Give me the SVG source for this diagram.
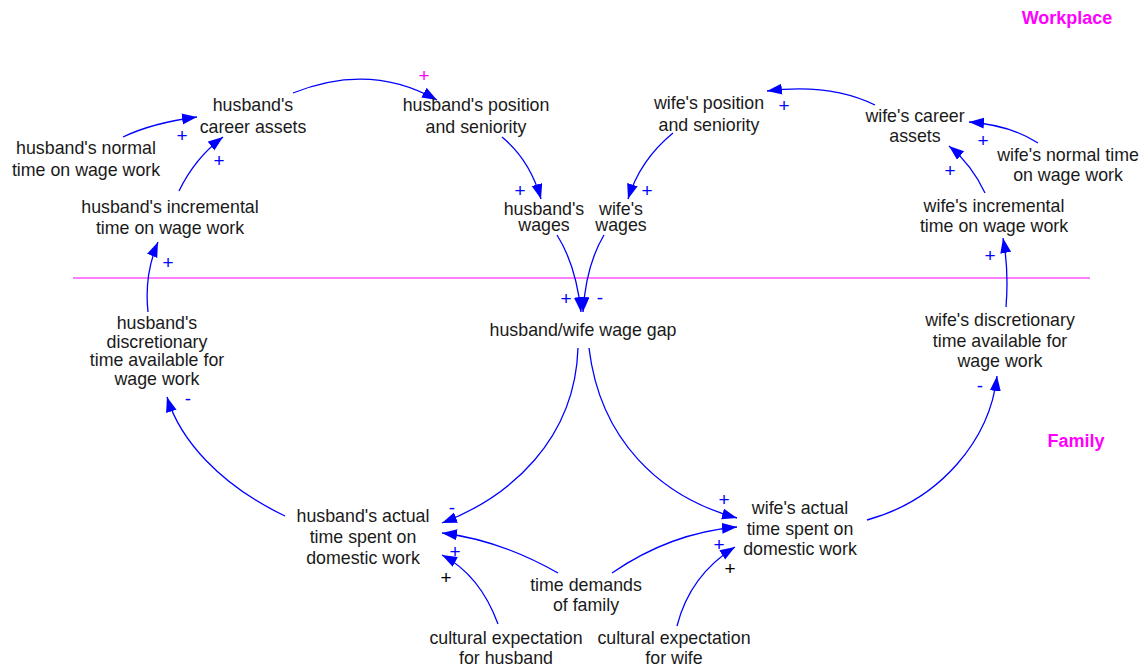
<svg xmlns="http://www.w3.org/2000/svg" width="1144" height="668" viewBox="0 0 1144 668">
  <style>
    .lbl { font-family: "Liberation Sans", Arial, sans-serif; font-size: 17.8px; fill: #1a1a1a; text-anchor: middle; }
    .zone { font-family: "Liberation Sans", Arial, sans-serif; font-size: 18px; font-weight: bold; fill: #ff00ff; text-anchor: middle; }
    .pol { font-family: "Liberation Sans", Arial, sans-serif; font-size: 19px; fill: #0000ff; text-anchor: middle; }
    .polk { font-family: "Liberation Sans", Arial, sans-serif; font-size: 19px; fill: #000000; text-anchor: middle; }
    .polm { font-family: "Liberation Sans", Arial, sans-serif; font-size: 19px; fill: #ff00ff; text-anchor: middle; }
    .link { fill: none; stroke: #0000ff; stroke-width: 1.3; marker-end: url(#head); }
  </style>
  <defs>
    <marker id="head" markerUnits="userSpaceOnUse" markerWidth="16" markerHeight="12" refX="15" refY="5.5" orient="auto">
      <path d="M0,0 L15,5.5 L0,11 z" fill="#0000ff"/>
    </marker>
  </defs>
  <rect width="1144" height="668" fill="#ffffff"/>

  <!-- boundary between workplace and family -->
  <g id="boundary">
    <line x1="73" y1="278" x2="1090" y2="278" stroke="#ff00ff" stroke-width="1"/>
    <text class="zone" x="1067" y="24">Workplace</text>
    <text class="zone" x="1076" y="447">Family</text>
  </g>

  <g id="connectors">
    <path class="link" d="M123,137 Q152,123 197,117"/>
    <path class="link" d="M179,191 Q195,158 223,137"/>
    <path class="link" d="M148,312 Q144,275 158,242"/>
    <path class="link" d="M293,93 Q370,62 437,100"/>
    <path class="link" d="M502,137 Q530,160 541,199"/>
    <path class="link" d="M673,133 Q640,160 628,199"/>
    <path class="link" d="M557,235 Q576,265 581,312"/>
    <path class="link" d="M604,235 Q586,265 583,312"/>
    <path class="link" d="M875,105 Q830,83 767,91"/>
    <path class="link" d="M1038,143 Q1010,125 969,122"/>
    <path class="link" d="M985,193 Q972,165 949,146"/>
    <path class="link" d="M1006,307 Q1009,270 1003,238"/>
    <path class="link" d="M578,348 C575,440 510,497 442,523"/>
    <path class="link" d="M589,348 C600,440 660,497 737,518"/>
    <path class="link" d="M285,516 C220,485 180,440 167,397"/>
    <path class="link" d="M558,573 Q500,540 442,533"/>
    <path class="link" d="M498,624 Q480,575 442,555"/>
    <path class="link" d="M612,573 Q670,533 737,527"/>
    <path class="link" d="M677,626 Q690,575 735,547"/>
    <path class="link" d="M867,520 C940,500 990,440 997,376"/>
  </g>

  <g id="polarities">
    <text class="pol" x="182" y="142">+</text>
    <text class="pol" x="219" y="167">+</text>
    <text class="pol" x="168" y="269">+</text>
    <text class="polm" x="424" y="82">+</text>
    <text class="pol" x="520" y="197">+</text>
    <text class="pol" x="647" y="197">+</text>
    <text class="pol" x="566" y="305">+</text>
    <text class="pol" x="600" y="304">-</text>
    <text class="pol" x="784" y="112">+</text>
    <text class="pol" x="983" y="147">+</text>
    <text class="pol" x="950" y="177">+</text>
    <text class="pol" x="990" y="262">+</text>
    <text class="pol" x="452" y="514">-</text>
    <text class="pol" x="724" y="506">+</text>
    <text class="pol" x="188" y="405">-</text>
    <text class="pol" x="455" y="558">+</text>
    <text class="polk" x="446" y="584">+</text>
    <text class="pol" x="719" y="551">+</text>
    <text class="polk" x="730" y="575">+</text>
    <text class="pol" x="980" y="392">-</text>
  </g>

  <g id="husband-career-assets"><text class="lbl" x="253" y="111">husband's</text><text class="lbl" x="253" y="133">career assets</text></g>
  <g id="husband-normal-time"><text class="lbl" x="86" y="154">husband's normal</text><text class="lbl" x="86" y="176">time on wage work</text></g>
  <g id="husband-incremental-time"><text class="lbl" x="170" y="213">husband's incremental</text><text class="lbl" x="170" y="234">time on wage work</text></g>
  <g id="husband-position"><text class="lbl" x="476" y="111">husband's position</text><text class="lbl" x="476" y="133">and seniority</text></g>
  <g id="husband-wages"><text class="lbl" x="544" y="215">husband's</text><text class="lbl" x="544" y="231">wages</text></g>
  <g id="wife-wages"><text class="lbl" x="621" y="215">wife's</text><text class="lbl" x="621" y="231">wages</text></g>
  <g id="wife-position"><text class="lbl" x="709" y="109">wife's position</text><text class="lbl" x="709" y="131">and seniority</text></g>
  <g id="wife-career-assets"><text class="lbl" x="915" y="122">wife's career</text><text class="lbl" x="915" y="142">assets</text></g>
  <g id="wife-normal-time"><text class="lbl" x="1068" y="161">wife's normal time</text><text class="lbl" x="1068" y="181">on wage work</text></g>
  <g id="wife-incremental-time"><text class="lbl" x="994" y="212">wife's incremental</text><text class="lbl" x="994" y="232">time on wage work</text></g>
  <g id="wife-discretionary-time"><text class="lbl" x="1000" y="326">wife's discretionary</text><text class="lbl" x="1000" y="347">time available for</text><text class="lbl" x="1000" y="367">wage work</text></g>
  <g id="wage-gap"><text class="lbl" x="583" y="336">husband/wife wage gap</text></g>
  <g id="husband-discretionary-time"><text class="lbl" x="157" y="329">husband's</text><text class="lbl" x="157" y="348">discretionary</text><text class="lbl" x="157" y="366">time available for</text><text class="lbl" x="157" y="385">wage work</text></g>
  <g id="husband-domestic-work"><text class="lbl" x="363" y="522">husband's actual</text><text class="lbl" x="363" y="543">time spent on</text><text class="lbl" x="363" y="564">domestic work</text></g>
  <g id="wife-domestic-work"><text class="lbl" x="800" y="514">wife's actual</text><text class="lbl" x="800" y="535">time spent on</text><text class="lbl" x="800" y="555">domestic work</text></g>
  <g id="family-time-demands"><text class="lbl" x="586" y="591">time demands</text><text class="lbl" x="586" y="611">of family</text></g>
  <g id="husband-cultural-expectation"><text class="lbl" x="506" y="644">cultural expectation</text><text class="lbl" x="506" y="664">for husband</text></g>
  <g id="wife-cultural-expectation"><text class="lbl" x="674" y="644">cultural expectation</text><text class="lbl" x="674" y="664">for wife</text></g>
</svg>
